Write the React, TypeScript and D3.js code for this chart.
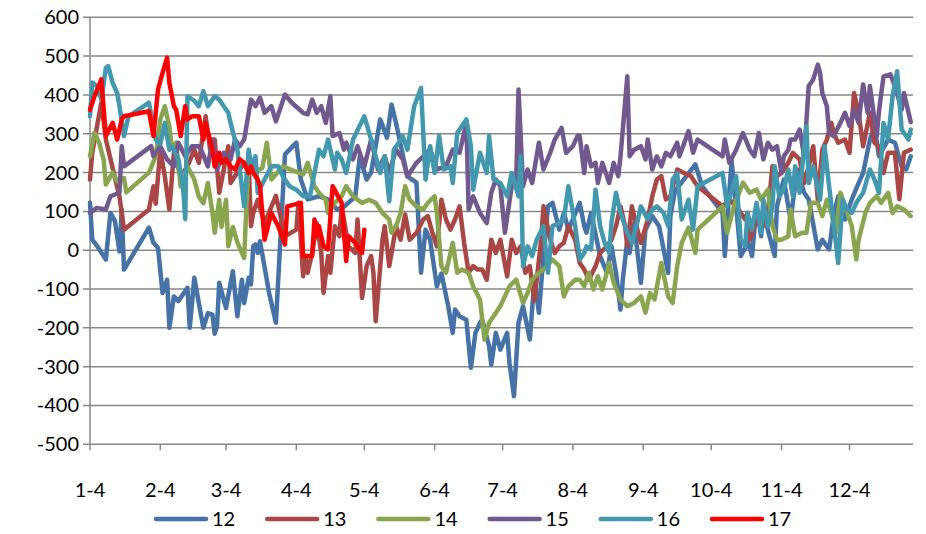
import React, { useEffect, useRef } from 'react';
import * as d3 from 'd3';

// [day of year, value] — all years folded onto one calendar year
const s12 = [[4,122],[5,27],[7,12],[11,-24],[13,96],[15,75],[17,-3],[18,105],[19,-50],[30,58],[32,19],[34,6],[36,-110],[38,-76],[39,-200],[41,-119],[43,-131],[47,-97],[48,-200],[50,-71],[52,-136],[54,-200],[56,-162],[58,-166],[59,-215],[60,-196],[61,-84],[64,-149],[67,-54],[69,-170],[71,-76],[72,-136],[74,-71],[75,-88],[76,10],[77,15],[78,-7],[79,23],[83,-110],[86,-187],[90,247],[95,277],[97,182],[100,131],[105,139],[109,131],[113,105],[116,112],[121,138],[123,242],[126,182],[128,200],[132,337],[135,290],[137,375],[139,327],[144,190],[148,174],[150,-58],[152,53],[154,27],[157,-93],[159,-60],[162,-144],[164,-213],[165,-153],[167,-170],[170,-179],[172,-303],[174,-213],[176,-187],[177,-179],[180,-246],[181,-295],[183,-213],[185,-256],[188,-213],[189,-290],[191,-376],[193,-187],[195,-144],[198,-230],[200,-76],[202,-161],[204,-15],[206,113],[208,122],[211,53],[213,96],[215,53],[220,122],[222,62],[223,45],[225,96],[229,-15],[232,-58],[234,10],[236,-58],[238,-153],[239,-76],[241,27],[242,-7],[244,70],[247,-84],[249,53],[252,88],[255,62],[259,-58],[260,88],[262,152],[271,221],[274,165],[283,96],[284,-15],[286,152],[287,229],[289,113],[291,-15],[293,6],[294,27],[296,-15],[298,113],[300,36],[301,96],[306,-15],[307,113],[310,182],[313,79],[316,208],[319,148],[321,131],[325,2],[327,27],[330,2],[332,88],[334,139],[337,79],[340,131],[343,173],[345,199],[348,285],[350,320],[352,242],[356,285],[359,277],[362,216],[364,208],[366,242]];

const s13 = [[4,182],[5,251],[9,380],[11,285],[17,138],[19,53],[30,105],[32,165],[33,120],[35,259],[37,190],[39,105],[41,251],[44,190],[47,216],[50,259],[52,225],[55,345],[57,259],[59,285],[61,148],[63,208],[65,268],[66,173],[69,200],[71,216],[74,225],[75,62],[76,96],[78,130],[81,70],[86,140],[90,36],[95,53],[96,122],[98,-67],[99,-15],[100,-58],[102,-7],[104,70],[106,-7],[107,-110],[109,-15],[110,-58],[112,62],[114,36],[115,113],[118,10],[121,-7],[122,79],[124,-123],[126,-41],[128,-15],[129,-58],[130,-183],[133,27],[134,62],[136,-41],[139,62],[141,27],[143,92],[145,27],[148,45],[151,79],[153,88],[155,45],[157,10],[159,130],[161,79],[163,53],[165,79],[167,113],[169,19],[171,-58],[173,-41],[175,-50],[177,-50],[179,-76],[181,27],[183,-7],[185,27],[188,-67],[190,27],[192,-7],[194,10],[196,-58],[198,-41],[200,-130],[203,27],[204,113],[207,27],[209,-7],[211,10],[213,19],[215,62],[218,27],[220,-33],[222,-50],[224,-76],[227,-41],[229,-7],[232,10],[234,27],[236,62],[238,113],[240,62],[241,10],[243,113],[245,62],[247,19],[250,79],[252,139],[254,182],[256,191],[258,131],[260,139],[263,208],[266,199],[269,191],[272,165],[283,113],[286,131],[289,113],[293,79],[294,96],[295,27],[297,62],[299,79],[301,62],[303,96],[305,216],[307,191],[309,199],[312,225],[314,251],[317,234],[319,173],[321,216],[323,268],[325,131],[327,259],[329,285],[331,328],[332,302],[334,277],[337,285],[339,251],[341,405],[343,354],[345,268],[348,354],[350,277],[352,268],[354,199],[356,251],[359,251],[361,131],[363,251],[366,259]];

const s14 = [[4,242],[6,303],[8,277],[10,234],[11,169],[14,200],[16,177],[19,186],[20,149],[30,200],[33,242],[35,337],[37,371],[39,319],[40,268],[42,277],[44,164],[47,216],[50,182],[52,138],[54,121],[56,173],[58,97],[59,45],[61,130],[62,60],[64,130],[65,10],[67,60],[69,20],[72,-20],[74,250],[76,200],[80,212],[82,277],[84,182],[89,216],[98,195],[100,225],[103,165],[105,148],[108,130],[109,96],[112,122],[115,139],[117,165],[120,139],[124,122],[127,130],[130,122],[133,96],[136,79],[137,45],[139,62],[141,96],[143,165],[145,130],[148,113],[151,105],[153,122],[156,139],[157,96],[159,-41],[161,-58],[164,19],[166,-58],[168,-50],[171,-58],[173,-93],[176,-127],[178,-230],[180,-187],[182,-170],[185,-144],[187,-119],[189,-93],[192,-76],[195,-136],[197,-110],[199,-76],[202,-58],[204,-50],[208,-24],[211,-41],[213,-119],[215,-93],[218,-76],[220,-76],[222,-93],[224,-58],[226,-101],[228,-67],[230,-101],[233,-33],[235,-84],[238,-127],[241,-144],[244,-136],[247,-119],[249,-161],[251,-110],[253,-127],[256,-33],[259,-119],[261,-136],[263,-41],[265,19],[268,58],[271,-7],[272,53],[283,113],[285,45],[288,113],[292,174],[295,148],[298,156],[300,130],[303,156],[305,62],[307,27],[309,27],[312,36],[313,105],[315,36],[318,45],[320,45],[322,122],[325,122],[327,88],[329,130],[331,96],[333,45],[335,148],[337,113],[340,62],[342,-24],[343,27],[346,96],[348,122],[351,139],[353,122],[356,148],[358,96],[360,113],[363,105],[366,88]];

const s15 = [[4,96],[7,109],[11,105],[13,139],[17,148],[18,268],[19,216],[31,268],[32,242],[35,268],[38,234],[41,216],[43,277],[46,242],[49,268],[52,268],[53,259],[56,216],[58,285],[60,208],[63,251],[66,234],[68,285],[70,268],[72,285],[75,388],[77,371],[79,393],[81,354],[84,371],[86,332],[90,401],[93,380],[98,354],[100,350],[102,388],[104,354],[106,371],[108,328],[110,397],[111,294],[114,302],[116,259],[117,277],[120,234],[122,268],[125,216],[128,285],[131,208],[134,242],[136,199],[139,259],[142,234],[144,190],[148,225],[151,242],[154,260],[157,208],[161,216],[164,259],[167,251],[170,328],[171,105],[173,139],[176,96],[179,70],[181,148],[183,182],[185,165],[187,45],[190,165],[192,182],[193,414],[195,165],[197,208],[199,173],[202,277],[204,208],[207,251],[209,285],[212,315],[214,251],[217,268],[219,294],[220,294],[222,199],[223,268],[225,216],[227,225],[228,173],[230,225],[233,173],[235,225],[237,191],[238,242],[241,448],[242,242],[244,259],[247,268],[249,234],[250,285],[252,208],[254,242],[256,216],[258,251],[260,242],[263,277],[264,242],[268,307],[270,251],[272,285],[283,242],[284,285],[286,225],[289,259],[292,302],[295,259],[297,242],[299,302],[301,234],[303,277],[305,259],[307,268],[309,199],[310,242],[312,259],[313,285],[315,285],[317,311],[319,242],[321,423],[323,440],[325,478],[326,457],[327,405],[329,371],[330,302],[332,294],[335,328],[337,354],[339,320],[341,362],[343,328],[345,427],[347,354],[348,423],[351,294],[352,358],[354,448],[357,453],[359,423],[362,362],[363,405],[366,330]];

const s16 = [[4,345],[5,432],[7,423],[9,388],[11,470],[12,474],[14,431],[16,405],[17,371],[19,294],[21,345],[30,380],[33,285],[35,273],[37,328],[39,259],[40,268],[43,234],[45,165],[46,80],[47,397],[50,385],[52,371],[54,410],[56,371],[59,397],[61,388],[63,371],[65,354],[66,328],[69,259],[72,113],[74,259],[75,216],[77,242],[78,148],[84,216],[87,216],[89,191],[92,165],[95,156],[98,139],[101,139],[105,259],[107,242],[109,285],[112,208],[113,251],[115,234],[117,199],[120,285],[125,345],[128,285],[132,199],[134,242],[136,126],[138,259],[142,293],[144,259],[147,371],[150,418],[152,182],[154,268],[156,199],[158,294],[160,208],[163,216],[164,173],[166,302],[170,337],[172,268],[173,156],[176,251],[179,199],[180,294],[182,182],[185,173],[188,139],[190,199],[193,139],[194,242],[195,-41],[197,10],[199,-15],[201,27],[204,62],[206,-58],[208,62],[211,70],[213,79],[215,165],[218,62],[220,-24],[222,-7],[223,10],[225,2],[227,156],[229,62],[231,19],[233,-7],[234,70],[236,148],[238,96],[241,45],[243,19],[245,62],[247,113],[250,79],[252,105],[254,113],[257,96],[259,62],[261,182],[263,199],[265,79],[268,130],[270,53],[272,165],[283,199],[285,113],[289,191],[291,27],[293,10],[294,96],[296,53],[298,122],[300,45],[301,130],[303,62],[305,113],[306,216],[308,139],[310,156],[312,208],[314,139],[315,216],[317,148],[320,320],[321,173],[323,216],[326,130],[328,268],[330,165],[332,70],[334,-33],[336,130],[338,105],[340,96],[342,122],[345,148],[348,208],[350,182],[352,148],[354,328],[356,285],[358,397],[360,461],[362,311],[365,285],[366,311]];

const s17 = [[4,362],[6,397],[9,440],[11,294],[14,328],[16,285],[18,337],[19,345],[30,358],[32,294],[34,414],[36,457],[38,496],[39,431],[41,371],[42,362],[44,294],[46,371],[47,337],[49,345],[52,345],[54,285],[55,328],[58,259],[59,216],[61,251],[62,225],[64,234],[66,216],[68,208],[70,234],[72,225],[74,199],[75,216],[76,199],[78,182],[79,165],[81,27],[84,96],[87,62],[90,15],[91,113],[97,122],[98,-15],[102,-15],[103,79],[104,36],[105,62],[107,10],[109,2],[111,165],[115,122],[117,-28],[118,36],[121,19],[124,-7],[125,53]];

const seriesNames = ['12', '13', '14', '15', '16', '17'];
const seriesData = [s12, s13, s14, s15, s16, s17];
const colors = ['#4572A7', '#AA4643', '#89A54E', '#71588F', '#4198AF', '#FF0000'];
const yTicks = [600, 500, 400, 300, 200, 100, 0, -100, -200, -300, -400, -500];
const monthLabels = ['1-4', '2-4', '3-4', '4-4', '5-4', '6-4', '7-4', '8-4', '9-4', '10-4', '11-4', '12-4'];

const FONT = 'Lato, "Open Sans", sans-serif';

const App = () => {
  const svgRef = useRef(null);

  useEffect(() => {
    const svg = d3.select(svgRef.current);
    svg.selectAll('*').remove();

    const toDate = (doy) => new Date(Date.UTC(2012, 0, doy));
    const x = d3.scaleUtc().domain([toDate(4), toDate(367)]).range([90, 913]);
    const y = d3.scaleLinear().domain([-500, 600]).range([444.3, 17.3]);

    // gridlines
    svg.append('g')
      .selectAll('line')
      .data(yTicks)
      .enter()
      .append('line')
      .attr('x1', 83)
      .attr('x2', 913)
      .attr('y1', (d) => y(d))
      .attr('y2', (d) => y(d))
      .attr('stroke', '#878787')
      .attr('stroke-width', 1.5);

    // y axis line
    svg.append('line')
      .attr('x1', 90).attr('x2', 90)
      .attr('y1', y(600)).attr('y2', y(-500))
      .attr('stroke', '#878787')
      .attr('stroke-width', 1.5);

    // x ticks
    const monthDates = monthLabels.map((_, i) => new Date(Date.UTC(2012, i, 4)));
    svg.append('g')
      .selectAll('line')
      .data(monthDates)
      .enter()
      .append('line')
      .attr('x1', (d) => x(d))
      .attr('x2', (d) => x(d))
      .attr('y1', y(-500))
      .attr('y2', y(-500) + 6)
      .attr('stroke', '#878787')
      .attr('stroke-width', 1.5);

    // y labels
    svg.append('g')
      .selectAll('text')
      .data(yTicks)
      .enter()
      .append('text')
      .attr('x', 79)
      .attr('y', (d) => y(d))
      .attr('dy', '0.35em')
      .attr('text-anchor', 'end')
      .attr('font-family', FONT)
      .attr('font-size', 20)
      .attr('fill', '#000')
      .text((d) => d);

    // x labels
    svg.append('g')
      .selectAll('text')
      .data(monthLabels)
      .enter()
      .append('text')
      .attr('x', (d, i) => x(monthDates[i]))
      .attr('y', 497)
      .attr('text-anchor', 'middle')
      .attr('font-family', FONT)
      .attr('font-size', 20)
      .attr('fill', '#000')
      .text((d) => d);

    // series
    const line = d3.line()
      .x((d) => x(toDate(d[0])))
      .y((d) => y(d[1]));

    svg.append('g')
      .selectAll('path')
      .data(seriesData)
      .enter()
      .append('path')
      .attr('d', (d) => line(d))
      .attr('fill', 'none')
      .attr('stroke', (d, i) => colors[i])
      .attr('stroke-width', 4.5)
      .attr('stroke-linejoin', 'round')
      .attr('stroke-linecap', 'round');

    // legend
    const legend = svg.append('g')
      .selectAll('g')
      .data(seriesNames)
      .enter()
      .append('g')
      .attr('transform', (d, i) => `translate(${156 + i * 111.2},519)`);

    legend.append('line')
      .attr('x1', 0).attr('x2', 50)
      .attr('y1', 0).attr('y2', 0)
      .attr('stroke', (d, i) => colors[i])
      .attr('stroke-width', 4.5)
      .attr('stroke-linecap', 'round');

    legend.append('text')
      .attr('x', 56)
      .attr('y', 0)
      .attr('dy', '0.35em')
      .attr('font-family', FONT)
      .attr('font-size', 20)
      .attr('fill', '#000')
      .text((d) => d);
  }, []);

  return (
    <svg ref={svgRef} width={926} height={534} style={{ position: 'absolute', left: 0, top: 0, background: '#fff' }}></svg>
  );
};

export default App;
